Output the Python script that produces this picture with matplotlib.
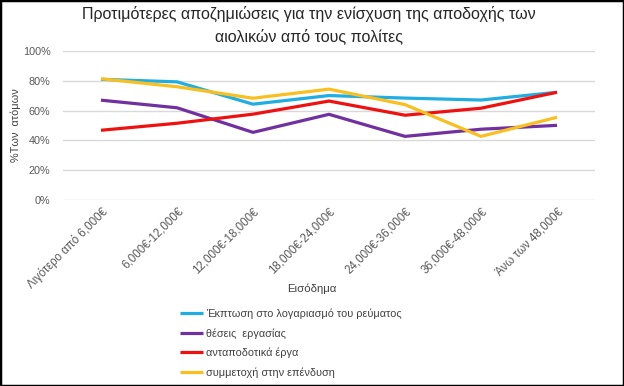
import matplotlib
matplotlib.use('Agg')
import matplotlib.pyplot as plt
from matplotlib.patches import Rectangle

plt.rcParams['font.family'] = ['Liberation Sans', 'DejaVu Sans']

categories = ['Λιγότερο από 6,000€', '6,000€-12,000€', '12,000€-18,000€',
              '18,000€-24,000€', '24,000€-36,000€', '36,000€-48,000€',
              'Άνω των 48,000€']

# percentages
discount = [81.0, 79.3, 64.3, 70.1, 68.4, 67.1, 72.3]
jobs = [67.0, 61.9, 45.4, 57.5, 42.7, 47.5, 50.1]
works = [46.8, 51.5, 57.6, 66.4, 56.9, 61.6, 72.3]
invest = [81.4, 76.0, 68.3, 74.4, 64.0, 42.7, 55.5]

series = [
    ('Έκπτωση στο λογαριασμό του ρεύματος', discount, '#1FADE2'),
    ('θέσεις  εργασίας', jobs, '#7030A0'),
    ('ανταποδοτικά έργα', works, '#EE1111'),
    ('συμμετοχή στην επένδυση', invest, '#F9BF20'),
]
y_ticks = [0, 20, 40, 60, 80, 100]

fig = plt.figure(figsize=(6.24, 3.86), dpi=100)
ax = fig.add_axes([63 / 624, 1 - 200 / 386, 532 / 624, 149 / 386])

x = list(range(len(categories)))
handles = []
for label, vals, col in series:
    h, = ax.plot(x, vals, color=col, lw=2.3, label=label, solid_capstyle='butt')
    handles.append(h)

ax.set_xlim(-0.5, len(categories) - 0.5)
ax.set_ylim(0, 100)
ax.set_yticks(y_ticks)
ax.set_yticklabels(['{}%'.format(v) for v in y_ticks])
ax.yaxis.grid(True, color='#d9d9d9', lw=1)
ax.set_axisbelow(True)
for s in ax.spines.values():
    s.set_visible(False)
ax.tick_params(axis='y', length=0, labelsize=7.8, labelcolor='#595959', pad=9)
ax.set_xticks(x)
ax.set_xticklabels(categories, rotation=45, ha='right', rotation_mode='anchor')
ax.tick_params(axis='x', length=0, labelsize=8.3, labelcolor='#595959', pad=4)

ax.set_ylabel('%Των  ατόμων', fontsize=7.8, color='#404040')
ax.yaxis.set_label_coords((21 - 63) / 532, 0.5)
fig.text(312 / 624, 1 - 289 / 386, 'Εισόδημα', ha='center', va='center',
         fontsize=8.2, color='#404040')

fig.text(309 / 624, 1 - 14 / 386, 'Προτιμότερες αποζημιώσεις για την ενίσχυση της αποδοχής των',
         ha='center', va='center', fontsize=11.5, color='#262626')
fig.text(309 / 624, 1 - 36 / 386, 'αιολικών από τους πολίτες',
         ha='center', va='center', fontsize=11.5, color='#262626')

fig.legend(handles=handles, loc='upper left', bbox_to_anchor=(176 / 624, 1 - 304 / 386),
           frameon=False, fontsize=7.8, labelspacing=0.85, handlelength=2.1,
           handletextpad=0.3, borderaxespad=0, labelcolor='#404040')

fig.add_artist(Rectangle((0, 0), 1, 1, transform=fig.transFigure, fill=False,
                         edgecolor='black', lw=2.5))

fig.savefig('out.png', dpi=100)
